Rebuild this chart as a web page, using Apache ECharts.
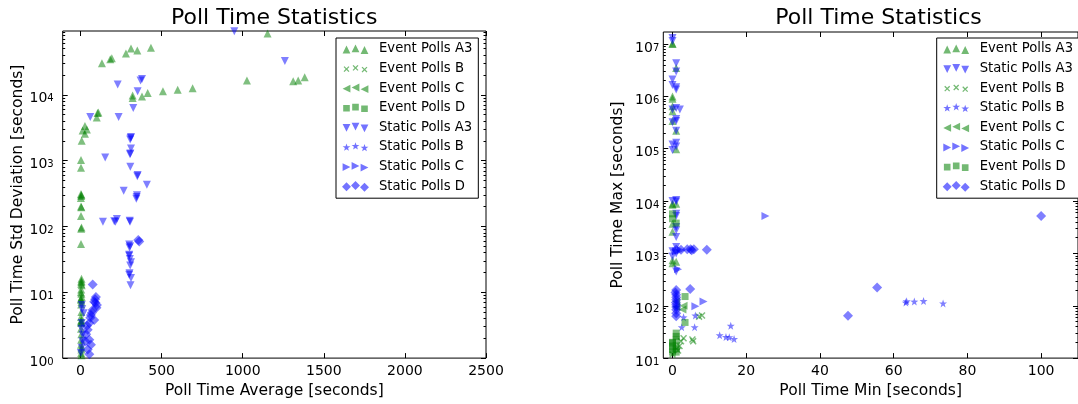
<!DOCTYPE html>
<html><head><meta charset="utf-8">
<script src="https://cdn.jsdelivr.net/npm/echarts@6/dist/echarts.min.js"></script>
<style>html,body{margin:0;padding:0;background:#fff}#c{width:1078px;height:404px}</style>
</head><body><div id="c"></div>
<script>
// ---------------- data ----------------
// Left plot: [average, std deviation]
const leftEventA3 = [[132,30100],[183,34600],[193,35800],[280,42200],[311,50600],[350,47200],[434,51900],[1153,85000],
  [1026,16400],[1311,16000],[1342,16400],[1382,18400],[321,8900],[321,9760],[379,9420],[414,10600],[508,11300],[599,11900],[691,12600],
  [105,5300],[110,5400],[100,4500],[27,3340],[13,2870],[39,2970],[27,2560],[7,2010],[3,1020],[3,782],
  [3,310],[4,290],[2,270],[5,300],[3,200],[5,195],[3,144],[6,96],[4,92],[3,54],
  [6,16],[5,14.3],[7,12.8],[4,11],[5,9.5],[3,8],[6,7.2],[4,6.5],[5,5],[3,4.2],[6,3.8],[4,3.4],[3,2.8],[5,2.3],[4,1.9],
  [3,1.6],[5,1.35],[4,1.2],[6,1.1],[2,10],[7,8.5],[2,3.6],[6,1.45],[5,15],[4,13.5],[3,7.7],[6,3.5]];
const leftStaticA3 = [[948,92000],[1260,32700],[229,14300],[379,17300],[370,16400],[352,11300],[325,6300],[60,4610],[235,4610],
  [311,2290],[306,2100],[309,2200],[311,1520],[307,1280],[305,1250],[152,1110],[307,809],[352,605],[350,580],[409,429],[266,348],
  [348,297],[344,264],[346,280],[138,118],[208,120],[224,130],[215,118],[305,118],[303,122],
  [300,53],[302,48],[305,50],[300,37],[300,36],[304,32],[311,28.6],[306,25.5],[300,18.4],[302,19.5],[311,16.5],[308,12.8],
  [7,6.4],[19,4.8],[7,3.4],[13,2.27],[7,1.43],[2,1.2],[10,5.5],[5,2.8],[12,1.8]];
const leftStaticD = [[356,62],[362,59],[75,13.1],[95,8.5],[84,7.2],[101,6.4],[90,7.8],[75,5.4],[64,4.5],[84,3.8],[54,3.4],[44,2.7],
  [98,5.8],[70,4.9],[60,4.1],[92,6.9],[40,3.1],[54,1.9],[64,1.6],[44,1.35],[54,1.14],[35,2.3],[30,1.8]];

// Right plot: [min, max]
const rightEventA3 = [[0,1.0e7],[0,1.03e7],[1,3.5e6],[0,1.0e6],[0,9e5],[0,6.5e5],[0,5.2e5],[0,3.4e5],[1,2.2e5],[1,9.8e4],
  [0,8900],[1,8900],[0,8500],[0,3700],[0,740],[0,650],[1,690],[0,2600]];
const rightStaticA3 = [[0,1.3e7],[0,1.15e7],[1,4.3e6],[1,3.0e6],[0,2.1e6],[0,1.65e6],[1,1.5e6],[1,1.35e6],[0,5.6e5],[1,6e5],[2,5.6e5],
  [1,3.4e5],[1,3.7e5],[0,3.2e5],[1,2.2e5],[1,1.3e5],[0,1.2e5],[1,1.1e5],[0,9.5e4],[1,1.05e4],[0,1.0e4],[1,9800],[1,5700],[1,5200],
  [1,3200],[1,2760],[1,2050],[1,1330],[0,870],[1,1000],[1,450],[0,1100]];
const rightEventB = [[8.0,65],[7.2,62],[5.4,22.7],[5.6,21],[2.3,21],[1.9,17],[0,11.7],[3,24],[1.5,14]];
const rightStaticB = [[6.2,65],[6,39],[2.5,39],[15.8,41.6],[12.8,27.3],[14.5,25.3],[15.4,25],[16.7,23.2],
  [63.3,115],[63.5,122],[65.6,120],[68.1,123],[73.4,111],[1,95],[3,60]];
const rightEventC = [[2.7,85],[1,95],[1,120],[3,100]];
const rightStaticC = [[25.2,5200],[8.4,120],[6.2,98],[2.3,1150],[1,1100],[1.5,500]];
const rightEventD = [[3.4,150],[3.4,48],[0,19.5],[1,26],[0,14.6],[1,22.6],[1,17],[0,20],[1,13],[1,30],[0,17],[1,15],[0,13],
  [1,3800],[0,5700],[0,4600]];
const rightStaticD = [[100,5200],[55.5,224],[47.6,64.6],[4.8,210],[4.0,1200],[4.9,1200],[5.8,1200],[9.3,1180],[1,1170],[2.3,1170],
  [5.2,1150],[1,200],[1,162],[1,130],[1,104],[1,84],[1,63],[0.8,180],[1,145],[0.9,115],[1,95],[1,72]];

// tick labels
const leftXTicks = [0,500,1000,1500,2000,2500];
const leftYTicks = [1,10,100,1000,10000];
const rightXTicks = [0,20,40,60,80,100];
const rightYTicks = [10,100,1000,10000,100000,1000000,10000000];
const leftLegendOrder = ['Event Polls A3','Event Polls B','Event Polls C','Event Polls D','Static Polls A3','Static Polls B','Static Polls C','Static Polls D'];
const rightLegendOrder = ['Event Polls A3','Static Polls A3','Event Polls B','Static Polls B','Event Polls C','Static Polls C','Event Polls D','Static Polls D'];
const titleText = 'Poll Time Statistics';

// ---------------- styling ----------------
const F = 'DejaVu Sans';
const GREEN = '#008000', BLUE = '#0000ff';
const markerOf = {
  'Event Polls A3': {c: GREEN, k: 'up'}, 'Event Polls B': {c: GREEN, k: 'x'},
  'Event Polls C': {c: GREEN, k: 'left'}, 'Event Polls D': {c: GREEN, k: 'square'},
  'Static Polls A3': {c: BLUE, k: 'down'}, 'Static Polls B': {c: BLUE, k: 'star'},
  'Static Polls C': {c: BLUE, k: 'right'}, 'Static Polls D': {c: BLUE, k: 'diamond'}
};
function shape(k, cx, cy, r) {
  switch (k) {
    case 'up': return [[cx-r,cy+r],[cx,cy-r],[cx+r,cy+r]];
    case 'down': return [[cx-r,cy-r],[cx+r,cy-r],[cx,cy+r]];
    case 'left': return [[cx+r,cy-r],[cx+r,cy+r],[cx-r,cy]];
    case 'right': return [[cx-r,cy-r],[cx-r,cy+r],[cx+r,cy]];
    case 'square': { const s = r*0.85; return [[cx-s,cy-s],[cx+s,cy-s],[cx+s,cy+s],[cx-s,cy+s]]; }
    case 'diamond': { const s = r*1.15; return [[cx,cy-s],[cx+s,cy],[cx,cy+s],[cx-s,cy]]; }
    case 'star': { const p = []; for (let i = 0; i < 10; i++) { const a = -Math.PI/2 + i*Math.PI/5; const rr = i%2 ? r*0.42 : r*1.05; p.push([cx+rr*Math.cos(a), cy+rr*Math.sin(a)]); } return p; }
    case 'x': { const a = r*0.9, t = r*0.16; const pl = [[t,a],[t,t],[a,t],[a,-t],[t,-t],[t,-a],[-t,-a],[-t,-t],[-a,-t],[-a,t],[-t,t],[-t,a]];
      return pl.map(([x,y]) => [cx+(x-y)/Math.SQRT2, cy+(x+y)/Math.SQRT2]); }
  }
}
const poly = pts => 'M' + pts.map(p => p[0].toFixed(2)+' '+p[1].toFixed(2)).join(' L') + ' Z';
function seriesSymbol(k) {
  if (k === 'up') return {symbol: 'triangle', symbolRotate: 0, symbolSize: 8};
  if (k === 'down') return {symbol: 'triangle', symbolRotate: 180, symbolSize: 8};
  if (k === 'left') return {symbol: 'triangle', symbolRotate: 90, symbolSize: 8};
  if (k === 'right') return {symbol: 'triangle', symbolRotate: -90, symbolSize: 8};
  if (k === 'square') return {symbol: 'rect', symbolSize: 7};
  if (k === 'diamond') return {symbol: 'diamond', symbolSize: 10};
  if (k === 'star') return {symbol: 'path://' + poly(shape('star',0,0,4)), symbolSize: 8};
  return {symbol: 'path://' + poly(shape('x',0,0,4)), symbolSize: 7};
}
function legendIcon(k) {
  let p = 'M0 0 L0 0 M27 12 L27 12 ';
  [[4.5,6.5],[13.5,5.3],[22.5,7]].forEach(([x,y]) => { p += poly(shape(k,x,y,3.9)) + ' '; });
  return 'path://' + p;
}
function mkSeries(name, data, gi) {
  const m = markerOf[name];
  return Object.assign({type: 'scatter', name, data, xAxisIndex: gi*2, yAxisIndex: gi*4,
    itemStyle: {color: m.c, opacity: 0.5}, emphasis: {disabled: true}, animation: false}, seriesSymbol(m.k));
}
function minorTicks(lo, hi) { const v = []; for (let e = lo; e <= hi; e++) for (let m = 2; m <= 9; m++) v.push(m*Math.pow(10,e)); return v; }
const logLabel = v => '{b|10}{s|' + Math.round(Math.log10(v)) + '}';
const rich = {b: {fontSize: 14, fontFamily: F, color: '#000', lineHeight: 14, padding: [8,0,0,0]},
              s: {fontSize: 10, fontFamily: F, color: '#000', lineHeight: 10, verticalAlign: 'top', padding: [6,0,0,0]}};

const grids = [
  {left: 62.7, top: 31, width: 423.3, height: 331},
  {left: 663.3, top: 32, width: 430.3, height: 330}
];
const xCfg = [
  {min: -110, max: 2500, ticks: leftXTicks, name: 'Poll Time Average [seconds]'},
  {min: -2.5, max: 110, ticks: rightXTicks, name: 'Poll Time Min [seconds]'}
];
const yCfg = [
  {min: 1, max: 93000, ticks: leftYTicks, minor: minorTicks(0,4).filter(v => v < 93000), name: 'Poll Time Std Deviation [seconds]', margin: 9},
  {min: 10, max: 1.7e7, ticks: rightYTicks, minor: minorTicks(1,7).filter(v => v < 1.7e7), name: 'Poll Time Max [seconds]', margin: 4}
];
const tickLine = {lineStyle: {color: '#000', width: 1}};
const noLine = {show: false, onZero: false};
const xAxis = [], yAxis = [];
[0,1].forEach(g => {
  const xc = xCfg[g], yc = yCfg[g];
  xAxis.push({type: 'value', gridIndex: g, position: 'bottom', min: xc.min, max: xc.max, splitLine: {show: false},
    axisLine: noLine,
    axisTick: Object.assign({show: true, inside: true, length: 5, customValues: xc.ticks}, tickLine),
    axisLabel: {customValues: xc.ticks, formatter: v => String(v), fontSize: 14, fontFamily: F, color: '#000', margin: 6},
    name: xc.name, nameLocation: 'middle', nameGap: 23, nameTextStyle: {fontSize: 15.5, fontFamily: F, color: '#000'}});
  xAxis.push({type: 'value', gridIndex: g, position: 'top', min: xc.min, max: xc.max, splitLine: {show: false},
    axisLine: noLine, axisLabel: {show: false},
    axisTick: Object.assign({show: true, inside: true, length: 5, customValues: xc.ticks}, tickLine)});
  const base = {type: 'log', logBase: 10, gridIndex: g, min: yc.min, max: yc.max, splitLine: {show: false}, axisLine: noLine};
  yAxis.push(Object.assign({}, base, {position: 'left',
    axisTick: Object.assign({show: true, inside: true, length: 5, customValues: yc.ticks}, tickLine),
    axisLabel: {customValues: yc.ticks, formatter: logLabel, rich, margin: yc.margin},
    name: yc.name, nameLocation: 'middle', nameGap: 37, nameTextStyle: {fontSize: 15.5, fontFamily: F, color: '#000'}}));
  yAxis.push(Object.assign({}, base, {position: 'left', axisLabel: {show: false},
    axisTick: Object.assign({show: true, inside: true, length: 2.5, customValues: yc.minor}, tickLine)}));
  yAxis.push(Object.assign({}, base, {position: 'right', axisLabel: {show: false},
    axisTick: Object.assign({show: true, inside: true, length: 5, customValues: yc.ticks}, tickLine)}));
  yAxis.push(Object.assign({}, base, {position: 'right', axisLabel: {show: false},
    axisTick: Object.assign({show: true, inside: true, length: 2.5, customValues: yc.minor}, tickLine)}));
});

const series = [
  mkSeries('Event Polls A3', leftEventA3, 0),
  mkSeries('Static Polls A3', leftStaticA3, 0),
  mkSeries('Static Polls D', leftStaticD, 0),
  mkSeries('Event Polls A3', rightEventA3, 1),
  mkSeries('Static Polls A3', rightStaticA3, 1),
  mkSeries('Event Polls B', rightEventB, 1),
  mkSeries('Static Polls B', rightStaticB, 1),
  mkSeries('Event Polls C', rightEventC, 1),
  mkSeries('Static Polls C', rightStaticC, 1),
  mkSeries('Event Polls D', rightEventD, 1),
  mkSeries('Static Polls D', rightStaticD, 1)
];
function mkLegend(order, left) {
  return {orient: 'vertical', left, top: 38, padding: [4,6,5,6], itemGap: 5.6, itemWidth: 27, itemHeight: 12,
    backgroundColor: '#fff', borderColor: '#000', borderWidth: 1, selectedMode: false,
    textStyle: {fontSize: 13.2, fontFamily: F, color: '#000', lineHeight: 14, padding: [0,0,0,5]},
    data: order.map(n => ({name: n, icon: legendIcon(markerOf[n].k), itemStyle: {color: markerOf[n].c, opacity: 0.55}}))};
}
const chart = echarts.init(document.getElementById('c'), null, {renderer: 'canvas'});
chart.setOption({
  backgroundColor: '#fff',
  animation: false,
  title: [
    {text: titleText, left: 274.3, top: 7, padding: 0, textAlign: 'center', textStyle: {fontSize: 22, fontWeight: 'normal', fontFamily: F, color: '#000'}},
    {text: titleText, left: 878.5, top: 7, padding: 0, textAlign: 'center', textStyle: {fontSize: 22, fontWeight: 'normal', fontFamily: F, color: '#000'}}
  ],
  grid: grids.map(g => Object.assign({show: true, borderColor: '#000', borderWidth: 1, backgroundColor: 'transparent'}, g)),
  xAxis, yAxis, series,
  legend: [mkLegend(leftLegendOrder, 336), mkLegend(rightLegendOrder, 936.7)]
});
</script></body></html>
